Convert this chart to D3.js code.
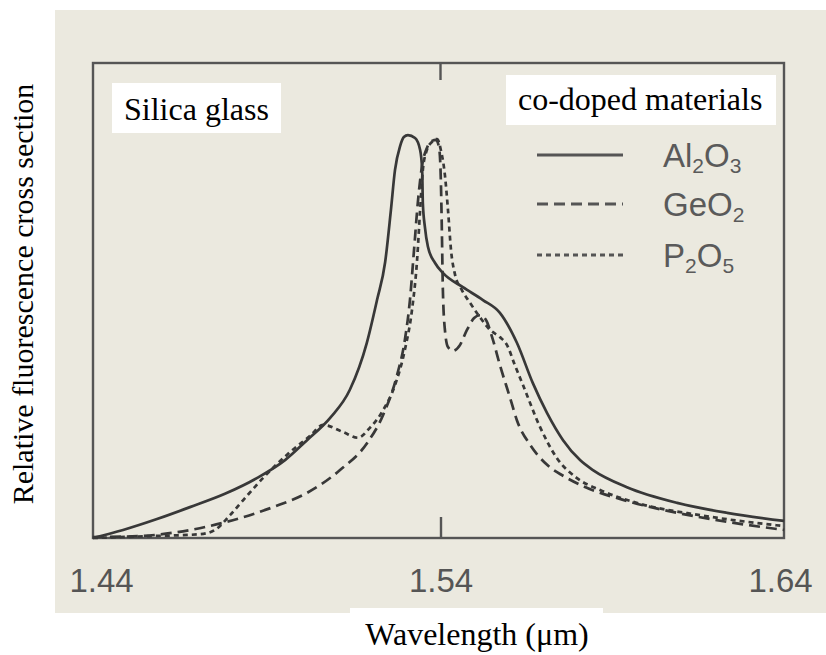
<!DOCTYPE html>
<html><head><meta charset="utf-8">
<script src="https://cdn.jsdelivr.net/npm/d3@7"></script>
<style>html,body{margin:0;padding:0;background:#fff;}svg{display:block;}</style>
</head><body>
<script>
// ---- data (wavelength in µm, relative fluorescence cross section 0..1) ----
const xTicks = [1.44, 1.54, 1.64];
const seriesNames = ["Al2O3", "GeO2", "P2O5"];

const al2o3Wl = [1.4376,1.4465,1.4565,1.4662,1.4765,1.4859,1.4942,1.5007,1.5075,1.5133,1.5183,1.5213,1.5237,1.5254,1.5266,1.5281,1.5292,1.5304,1.5325,1.5340,1.5346,1.5348,1.5354,1.5363,1.5384,1.5407,1.5466,1.5525,1.5575,1.5625,1.5672,1.5714,1.5761,1.5811,1.5849,1.5949,1.6097,1.6244,1.6412];
const al2o3Val = [0.000,0.017,0.040,0.065,0.093,0.126,0.164,0.206,0.253,0.312,0.411,0.501,0.581,0.691,0.775,0.825,0.844,0.848,0.842,0.817,0.775,0.705,0.655,0.613,0.579,0.558,0.528,0.501,0.474,0.411,0.326,0.263,0.206,0.164,0.143,0.107,0.074,0.053,0.036];

const geo2Wl = [1.4376,1.4515,1.4612,1.4759,1.4907,1.5007,1.5104,1.5184,1.5231,1.5272,1.5295,1.5310,1.5322,1.5334,1.5346,1.5360,1.5375,1.5387,1.5396,1.5401,1.5404,1.5407,1.5413,1.5422,1.5437,1.5457,1.5478,1.5499,1.5516,1.5534,1.5552,1.5575,1.5605,1.5625,1.5664,1.5714,1.5761,1.5820,1.5949,1.6097,1.6244,1.6412];
const geo2Val = [0.002,0.004,0.011,0.032,0.065,0.095,0.143,0.200,0.259,0.343,0.417,0.501,0.606,0.712,0.785,0.821,0.836,0.838,0.821,0.754,0.648,0.522,0.438,0.402,0.394,0.406,0.438,0.463,0.469,0.459,0.423,0.364,0.295,0.248,0.196,0.154,0.131,0.109,0.078,0.053,0.034,0.017];

const p2o5Wl = [1.4376,1.4544,1.4692,1.4736,1.4780,1.4824,1.4877,1.4957,1.5016,1.5054,1.5113,1.5157,1.5192,1.5231,1.5266,1.5295,1.5316,1.5331,1.5340,1.5348,1.5360,1.5375,1.5390,1.5401,1.5413,1.5422,1.5431,1.5443,1.5463,1.5487,1.5516,1.5546,1.5575,1.5596,1.5619,1.5643,1.5693,1.5743,1.5802,1.5870,1.5988,1.6165,1.6412];
const p2o5Val = [0.000,0.004,0.008,0.017,0.048,0.084,0.126,0.181,0.215,0.238,0.223,0.211,0.232,0.269,0.322,0.396,0.480,0.585,0.691,0.775,0.817,0.834,0.840,0.817,0.764,0.691,0.606,0.554,0.522,0.495,0.465,0.438,0.423,0.406,0.364,0.322,0.234,0.168,0.126,0.101,0.072,0.048,0.025];

// ---- layout ----
const W = 826, H = 655;
const frame = {l: 93, r: 784, t: 63, b: 538};
const ink = "#383838", frameCol = "#555", grayText = "#555";

const svg = d3.select("body").append("svg").attr("width", W).attr("height", H);

// scanned-paper background
svg.append("rect").attr("x", 0).attr("y", 0).attr("width", W).attr("height", H).attr("fill", "#fff");
svg.append("rect").attr("x", 55).attr("y", 10).attr("width", W - 55).attr("height", 603).attr("fill", "#ebe9df");

const x = d3.scaleLinear().domain([1.44, 1.64]).range([101, 780]);
const y = d3.scaleLinear().domain([0, 1]).range([frame.b, frame.t]);

// frame
svg.append("rect").attr("x", frame.l).attr("y", frame.t)
  .attr("width", frame.r - frame.l).attr("height", frame.b - frame.t)
  .attr("fill", "none").attr("stroke", frameCol).attr("stroke-width", 2.4);

// axes: bottom inner tick + labels, top inner tick
const bottomAxis = d3.axisBottom(x).tickValues(xTicks).tickFormat(d3.format(".2f"))
  .tickSizeInner(0).tickSizeOuter(0).tickPadding(0);
const gb = svg.append("g").attr("transform", `translate(0,${frame.b})`).call(bottomAxis);
gb.select(".domain").remove();
gb.selectAll(".tick text").attr("y", 54).attr("dy", 0)
  .attr("font-family", "Arial, 'Liberation Sans', sans-serif").attr("font-size", 33)
  .attr("fill", grayText);
gb.selectAll(".tick").filter(d => d === 1.54).append("line")
  .attr("y1", 0).attr("y2", -21).attr("stroke", frameCol).attr("stroke-width", 2.4);

svg.append("line").attr("x1", x(1.54)).attr("x2", x(1.54)).attr("y1", frame.t).attr("y2", frame.t + 17)
  .attr("stroke", frameCol).attr("stroke-width", 2.4);

// curves
const line = d3.line().x(d => x(d[0])).y(d => y(d[1])).curve(d3.curveMonotoneX);
const series = [
  {wl: al2o3Wl, val: al2o3Val, dash: null},
  {wl: geo2Wl, val: geo2Val, dash: "11,6"},
  {wl: p2o5Wl, val: p2o5Val, dash: "5,4"}
];
series.forEach(s => {
  svg.append("path").datum(d3.zip(s.wl, s.val)).attr("d", line)
    .attr("fill", "none").attr("stroke", ink).attr("stroke-width", 2.7)
    .attr("stroke-dasharray", s.dash);
});

// legend
const legY = [155, 204, 255];
const legLab = [["Al", "2", "O", "3"], ["GeO", "2"], ["P", "2", "O", "5"]];
series.forEach((s, i) => {
  svg.append("line").attr("x1", 537).attr("x2", 623).attr("y1", legY[i]).attr("y2", legY[i])
    .attr("stroke", "#555").attr("stroke-width", 2.8).attr("stroke-dasharray", s.dash);
  const t = svg.append("text").attr("x", 663).attr("y", legY[i] + 12)
    .attr("font-family", "Arial, 'Liberation Sans', sans-serif").attr("font-size", 33)
    .attr("fill", "#5a5a5a");
  legLab[i].forEach((p, k) => {
    const sub = /^\d$/.test(p);
    t.append("tspan").text(p).attr("font-size", sub ? 21 : 33)
      .attr("dy", sub ? 6 : (k > 0 ? -6 : 0));
  });
});

// white label boxes (Times text)
const serif = "'Times New Roman', 'Liberation Serif', 'DejaVu Serif', serif";
svg.append("rect").attr("x", 112).attr("y", 83).attr("width", 169).attr("height", 50).attr("fill", "#fff");
svg.append("text").attr("x", 124).attr("y", 120).attr("font-family", serif).attr("font-size", 32)
  .attr("fill", "#000").text("Silica glass");

svg.append("rect").attr("x", 506).attr("y", 75).attr("width", 270).attr("height", 50).attr("fill", "#fff");
svg.append("text").attr("x", 518).attr("y", 110).attr("font-family", serif).attr("font-size", 32)
  .attr("fill", "#000").text("co-doped materials");

svg.append("rect").attr("x", 350).attr("y", 608).attr("width", 253).attr("height", 47).attr("fill", "#fff");
svg.append("text").attr("x", 477).attr("y", 645).attr("text-anchor", "middle").attr("font-family", serif)
  .attr("font-size", 32).attr("fill", "#000").text("Wavelength (\u03bcm)");

svg.append("text").attr("transform", "translate(33,294) rotate(-90)").attr("text-anchor", "middle")
  .attr("font-family", serif).attr("font-size", 30).attr("fill", "#000")
  .text("Relative fluorescence cross section");
</script>
</body></html>
